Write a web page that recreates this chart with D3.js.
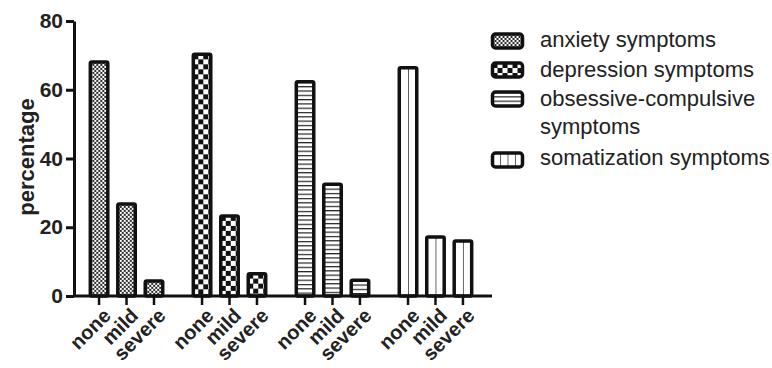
<!DOCTYPE html>
<html>
<head>
<meta charset="utf-8">
<script src="https://cdn.jsdelivr.net/npm/d3@7"></script>
<style>
  body { margin: 0; background: #fff; }
  svg { font-family: "Liberation Sans", Arial, sans-serif; }
</style>
</head>
<body>
<script>
// data
const groups = ["anxiety", "depression", "obsessive", "somatization"]
const levels = ["none", "mild", "severe"]
const anxiety = [68.1, 26.8, 4.4]
const depression = [70.3, 23.3, 6.5]
const obsessive = [62.3, 32.5, 4.6]
const somatization = [66.4, 17.2, 16.0]
const legendLabels = [["anxiety symptoms"], ["depression symptoms"], ["obsessive-compulsive", "symptoms"], ["somatization symptoms"]]
const yTicks = [0, 20, 40, 60, 80]

const series = [anxiety, depression, obsessive, somatization]

const w = 772
const h = 368
const sw = 3.5 // bar outline

const svg = d3.select("body").append("svg")
    .attr("width", w)
    .attr("height", h)

const defs = svg.append("defs")

// fill patterns, one per use so the texture lines up with each box
function addPattern(id, kind, x0, y0, boxW) {
    let p = defs.append("pattern")
        .attr("id", id)
        .attr("patternUnits", "userSpaceOnUse")
        .attr("x", x0)
        .attr("y", y0)
    if (kind == "anxiety") {
        p.attr("width", 4).attr("height", 4)
        p.append("rect").attr("width", 4).attr("height", 4).attr("fill", "#fff")
        p.append("rect").attr("width", 2).attr("height", 2).attr("fill", "#2a2a2a")
        p.append("rect").attr("x", 2).attr("y", 2).attr("width", 2).attr("height", 2).attr("fill", "#2a2a2a")
    } else if (kind == "depression") {
        p.attr("width", 10).attr("height", 10)
        p.append("rect").attr("width", 10).attr("height", 10).attr("fill", "#fff")
        p.append("rect").attr("width", 5).attr("height", 5).attr("fill", "#111")
        p.append("rect").attr("x", 5).attr("y", 5).attr("width", 5).attr("height", 5).attr("fill", "#111")
    } else if (kind == "obsessive") {
        p.attr("width", 4).attr("height", 4.3)
        p.append("rect").attr("width", 4).attr("height", 4.3).attr("fill", "#fff")
        p.append("rect").attr("width", 4).attr("height", 1.2).attr("fill", "#222")
    } else {
        let tw = boxW
        p.attr("width", tw).attr("height", 10)
        p.append("rect").attr("width", tw).attr("height", 10).attr("fill", "#fff")
        p.append("rect").attr("x", -0.7).attr("width", 1.4).attr("height", 10).attr("fill", "#222")
    }
    return "url(#" + id + ")"
}

const y = d3.scaleLinear()
    .domain([0, 80])
    .range([296, 21])

const xg = d3.scaleBand()
    .domain(groups)
    .range([74, 488])
    .paddingInner(0.2)
    .paddingOuter(0.11)

const xi = d3.scaleBand()
    .domain(levels)
    .range([0, xg.bandwidth()])
    .paddingInner(0.236)
    .paddingOuter(0.118)

// flatten to one record per bar
const bars = []
groups.forEach(function(g, gi) {
    levels.forEach(function(l, li) {
        bars.push({ group: g, level: l, value: series[gi][li], id: "p" + gi + "_" + li })
    })
})

const barG = svg.append("g")

barG.selectAll("rect")
    .data(bars)
    .enter()
    .append("rect")
    .attr("x", function(d) { return xg(d.group) + xi(d.level) + sw / 2 })
    .attr("y", function(d) { return y(d.value) })
    .attr("width", xi.bandwidth() - sw)
    .attr("height", function(d) { return y(0) - y(d.value) })
    .attr("rx", 1.5)
    .attr("fill", function(d) {
        let bx = xg(d.group) + xi(d.level) + sw / 2
        return addPattern(d.id, d.group, bx, y(d.value), (xi.bandwidth() - sw) / 2)
    })
    .attr("stroke", "#111")
    .attr("stroke-width", sw)
    .attr("stroke-linejoin", "round")

// y axis
const yAxis = svg.append("g")
    .attr("transform", "translate(74,0)")
    .call(d3.axisLeft(y).tickValues(yTicks).tickSize(8).tickPadding(3).tickSizeOuter(0))
yAxis.select(".domain").attr("stroke", "#111").attr("stroke-width", 3)
yAxis.selectAll(".tick line").attr("stroke", "#111").attr("stroke-width", 3)
yAxis.selectAll(".tick text")
    .attr("fill", "#222")
    .style("font-size", "21px")
    .style("font-weight", "bold")

// x axis: baseline plus a tick under every bar
svg.append("line")
    .attr("x1", 74).attr("x2", 492)
    .attr("y1", y(0)).attr("y2", y(0))
    .attr("stroke", "#111")
    .attr("stroke-width", 3)

svg.append("g").selectAll("line")
    .data(bars)
    .enter()
    .append("line")
    .attr("x1", function(d) { return xg(d.group) + xi(d.level) + xi.bandwidth() / 2 })
    .attr("x2", function(d) { return xg(d.group) + xi(d.level) + xi.bandwidth() / 2 })
    .attr("y1", y(0))
    .attr("y2", y(0) + 9)
    .attr("stroke", "#111")
    .attr("stroke-width", 2.5)

svg.append("g").selectAll("text")
    .data(bars)
    .enter()
    .append("text")
    .attr("transform", function(d) {
        let cx = xg(d.group) + xi(d.level) + xi.bandwidth() / 2
        return "translate(" + (cx + 8) + "," + (y(0) + 16) + ") rotate(-45)"
    })
    .attr("text-anchor", "end")
    .attr("dy", "0.35em")
    .attr("fill", "#222")
    .style("font-size", "20px")
    .style("font-weight", "bold")
    .text(function(d) { return d.level })

// y axis title
svg.append("text")
    .attr("transform", "translate(34,157) rotate(-90)")
    .attr("text-anchor", "middle")
    .attr("fill", "#222")
    .style("font-size", "22px")
    .style("font-weight", "bold")
    .text("percentage")

// legend
const swatchY = [41, 70, 99, 160]
const textY = [[47], [77], [106, 134], [165]]

const legend = svg.append("g")
groups.forEach(function(g, i) {
    let sx = 492.5, sy = swatchY[i] - 7, sW = 30, sH = 14
    legend.append("rect")
        .attr("x", sx).attr("y", sy)
        .attr("width", sW).attr("height", sH)
        .attr("rx", 3)
        .attr("fill", addPattern("leg" + i, g, sx, sy, sW / 4))
        .attr("stroke", "#111")
        .attr("stroke-width", 3.5)
    legendLabels[i].forEach(function(t, j) {
        legend.append("text")
            .attr("x", 540)
            .attr("y", textY[i][j])
            .attr("fill", "#222")
            .style("font-size", "22px")
            .text(t)
    })
})
</script>
</body>
</html>
